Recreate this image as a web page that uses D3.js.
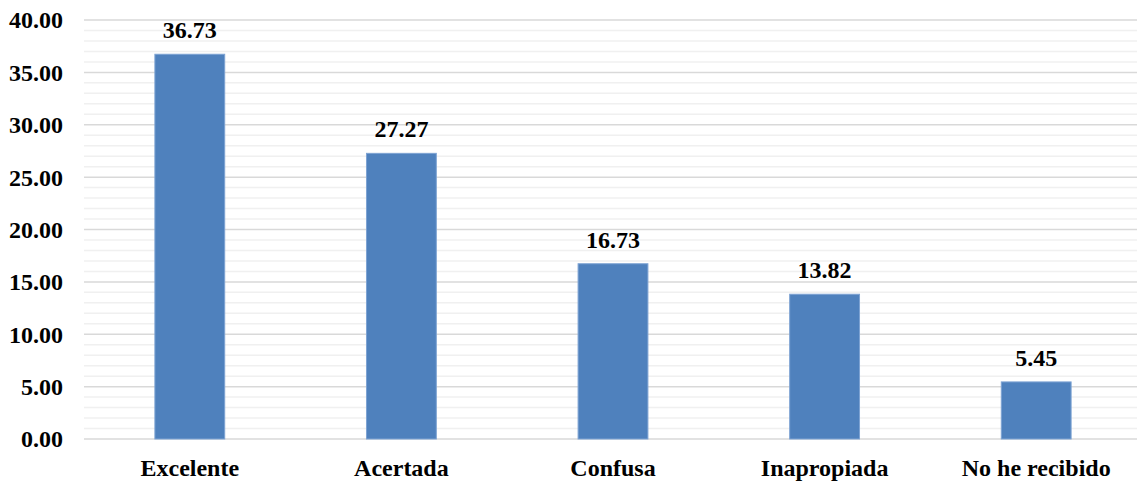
<!DOCTYPE html>
<html>
<head>
<meta charset="utf-8">
<script src="https://cdn.jsdelivr.net/npm/d3@7"></script>
<style>
  html, body { margin: 0; padding: 0; background: #fff; }
  svg { display: block; }
</style>
</head>
<body>
<svg id="chart" width="1137" height="491"></svg>
<script>
const categories = ["Excelente", "Acertada", "Confusa", "Inapropiada", "No he recibido"];
const values = [36.73, 27.27, 16.73, 13.82, 5.45];
const majorTicks = [0, 5, 10, 15, 20, 25, 30, 35, 40];
const minorTicks = d3.range(0, 41, 1).filter(v => v % 5 !== 0);

const FONT = "'Liberation Serif', Tinos, 'Times New Roman', 'DejaVu Serif', serif";
const FONT_SIZE = "24px";

const svg = d3.select("#chart");
const plotLeft = 84, plotRight = 1142, plotTop = 20, plotBottom = 439;

const x = d3.scaleBand().domain(categories).range([plotLeft, plotRight]).paddingInner(0.67).paddingOuter(0.335);
const y = d3.scaleLinear().domain([0, 40]).range([plotBottom, plotTop]);

function styleText(sel) {
  sel.attr("font-family", FONT)
     .style("font-family", FONT)
     .style("font-weight", "bold")
     .style("font-size", FONT_SIZE)
     .attr("fill", "#000");
}

// minor gridlines
svg.append("g").selectAll("line").data(minorTicks).join("line")
  .attr("x1", plotLeft).attr("x2", plotRight)
  .attr("y1", d => y(d)).attr("y2", d => y(d))
  .attr("stroke", "#f0f0f0").attr("stroke-width", 1.5);

// major gridlines
svg.append("g").selectAll("line").data(majorTicks).join("line")
  .attr("x1", plotLeft).attr("x2", plotRight)
  .attr("y1", d => y(d)).attr("y2", d => y(d))
  .attr("stroke", "#d9d9d9").attr("stroke-width", 1.5);

// y axis labels
const yAxis = d3.axisLeft(y).tickValues(majorTicks).tickFormat(d3.format(".2f")).tickSize(0).tickPadding(21);
const gy = svg.append("g").attr("transform", `translate(${plotLeft},0)`).call(yAxis);
gy.attr("font-family", null).attr("font-size", null);
gy.select(".domain").remove();
gy.selectAll("text").call(styleText).attr("dy", "0.33em");

// bars
svg.append("g").selectAll("rect").data(values).join("rect")
  .attr("x", (d, i) => x(categories[i]))
  .attr("width", x.bandwidth())
  .attr("y", d => y(d))
  .attr("height", d => y(0) - y(d))
  .attr("fill", "#4f81bd")
  .attr("stroke", "#7ea3d3").attr("stroke-width", 1);

// value labels
svg.append("g").selectAll("text").data(values).join("text")
  .attr("x", (d, i) => x(categories[i]) + x.bandwidth() / 2)
  .attr("y", d => y(d) - 16)
  .attr("text-anchor", "middle")
  .call(styleText)
  .text(d => d3.format(".2f")(d));

// x axis labels
const xAxis = d3.axisBottom(x).tickSize(0).tickPadding(0);
const gx = svg.append("g").attr("transform", `translate(0,${plotBottom})`).call(xAxis);
gx.attr("font-family", null).attr("font-size", null);
gx.select(".domain").remove();
gx.selectAll("text").call(styleText).attr("y", 37).attr("dy", 0);
</script>
</body>
</html>
